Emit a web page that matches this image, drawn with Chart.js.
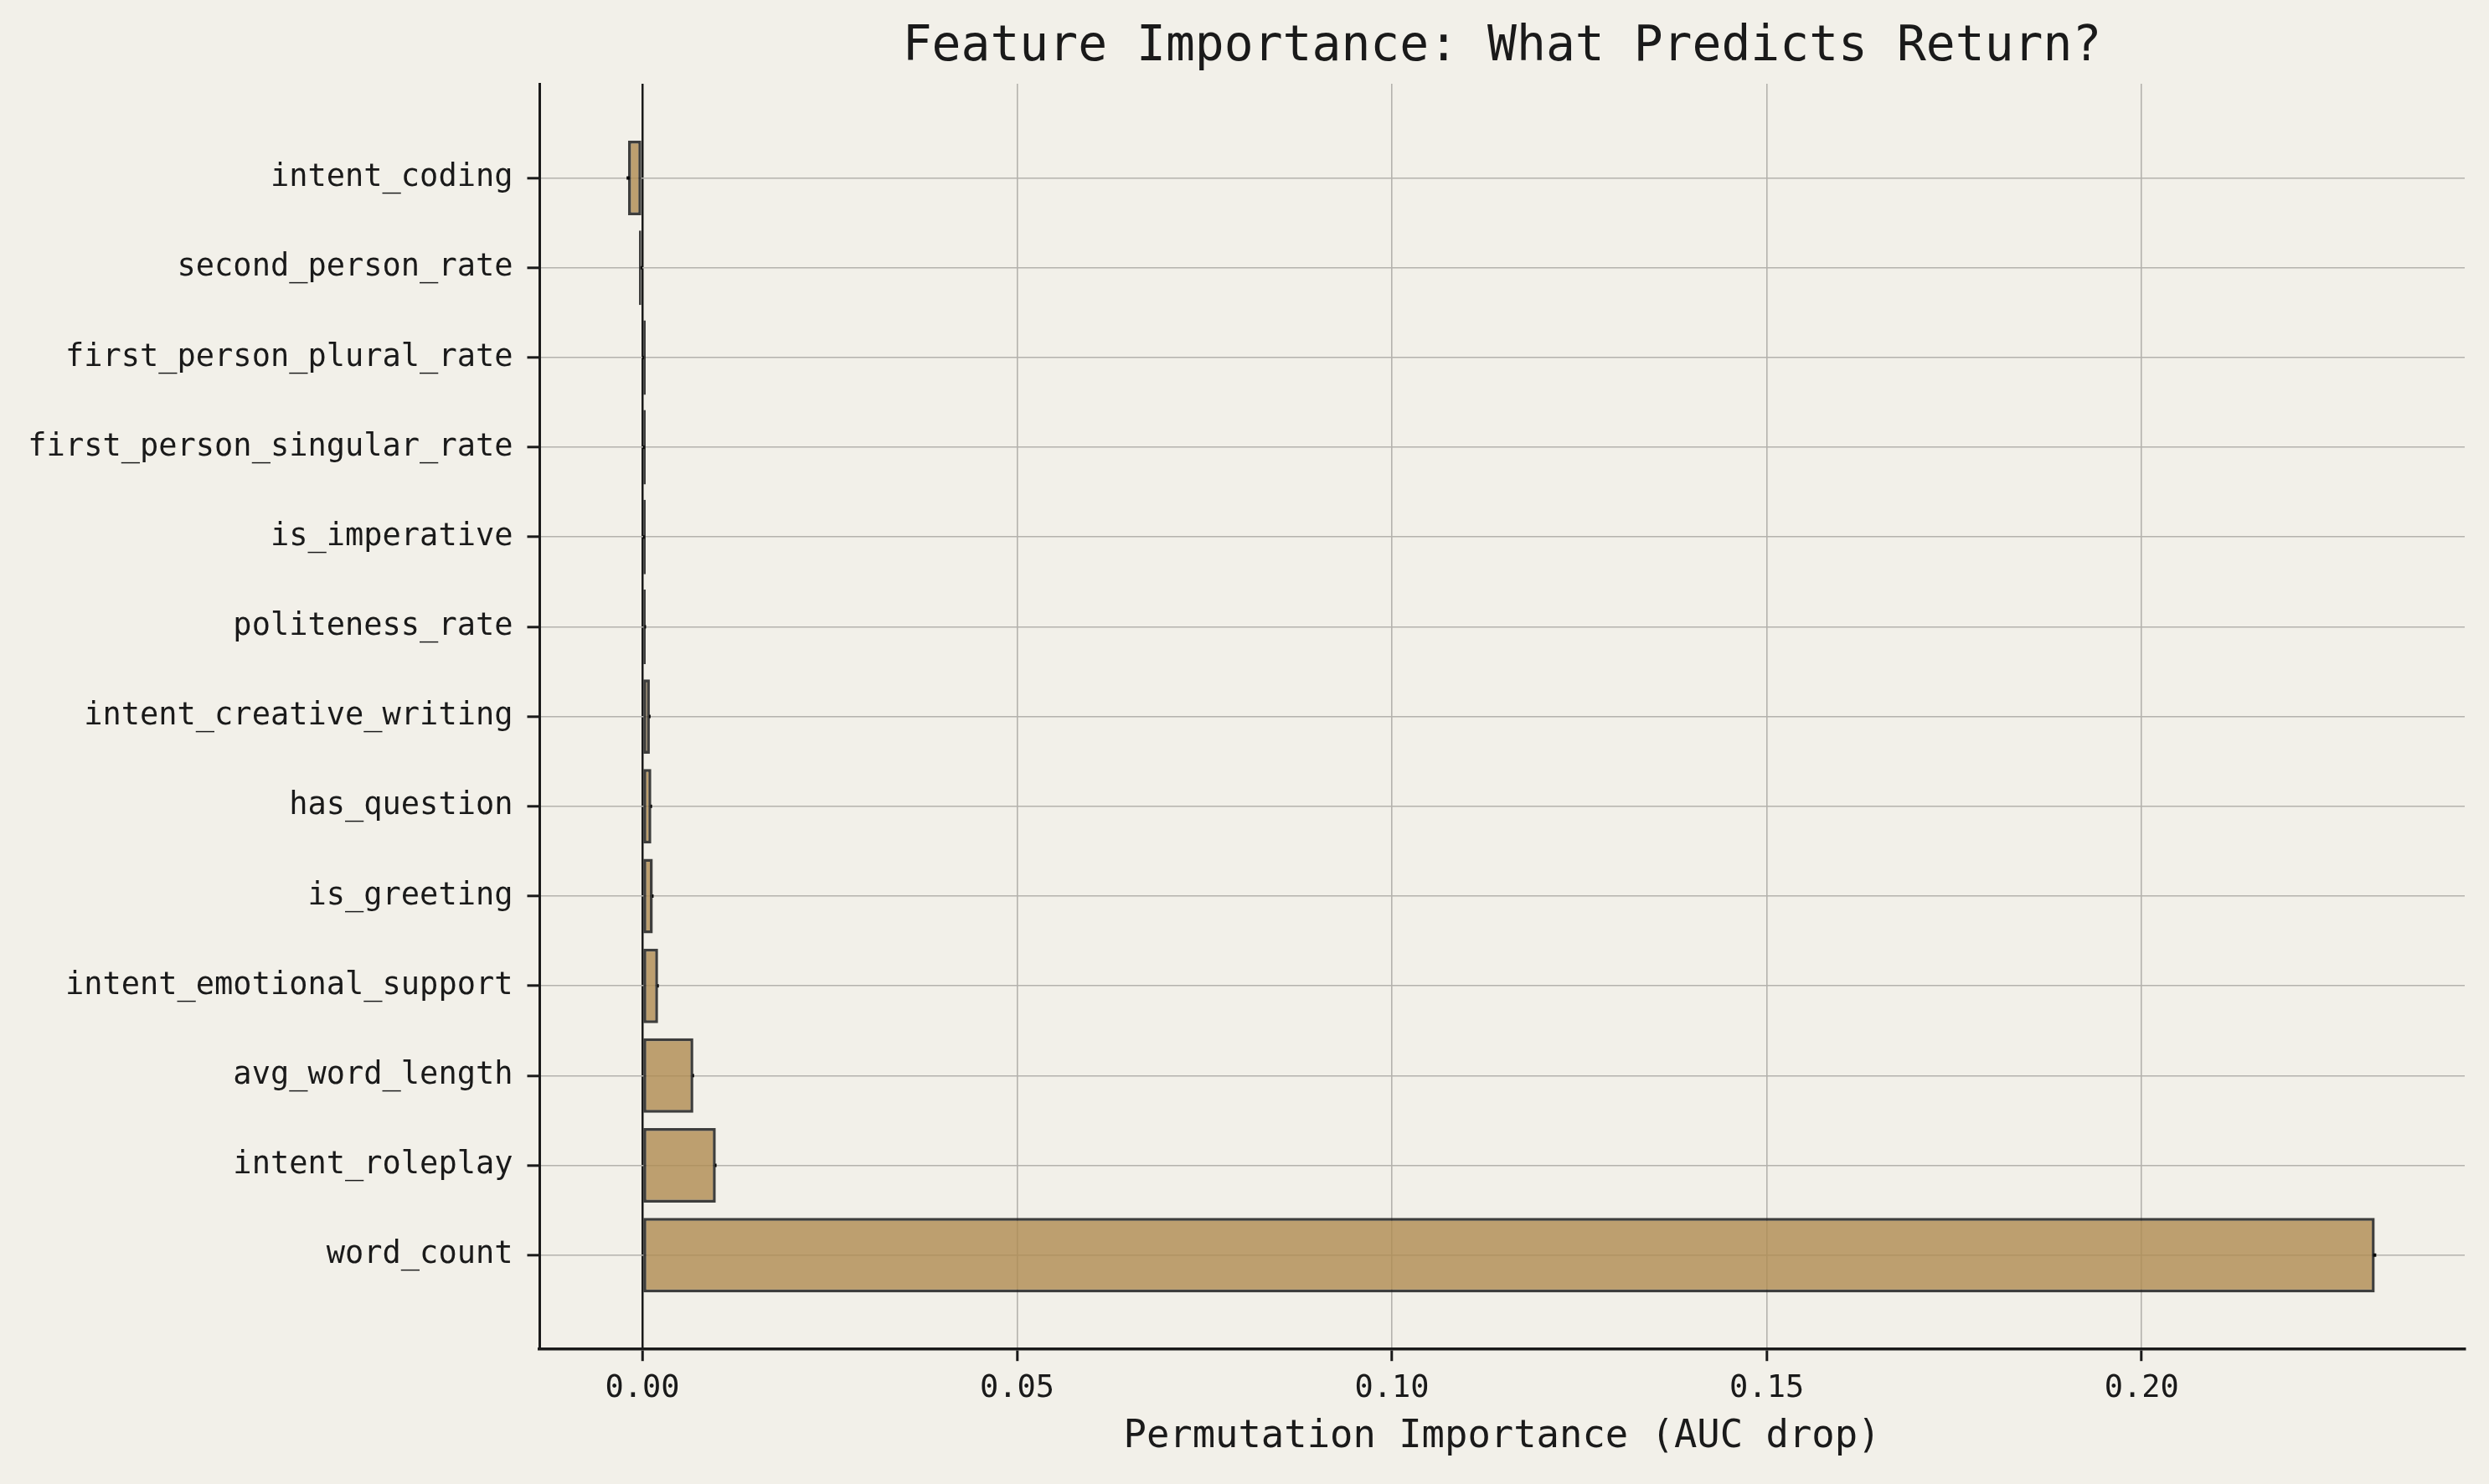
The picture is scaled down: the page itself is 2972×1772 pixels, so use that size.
<!DOCTYPE html>
<html>
<head>
<meta charset="utf-8">
<script src="https://cdn.jsdelivr.net/npm/chart.js@4.4.1/dist/chart.umd.min.js"></script>
<style>
  html, body { margin: 0; padding: 0; background: #F2F0E9; }
  #wrap { width: 2972px; height: 1772px; }
</style>
</head>
<body>
<div id="wrap"><canvas id="c" width="2972" height="1772"></canvas></div>
<script>
// ---- data (top to bottom as displayed) ----
const features = [
  "intent_coding",
  "second_person_rate",
  "first_person_plural_rate",
  "first_person_singular_rate",
  "is_imperative",
  "politeness_rate",
  "intent_creative_writing",
  "has_question",
  "is_greeting",
  "intent_emotional_support",
  "avg_word_length",
  "intent_roleplay",
  "word_count"
];
const importance = [
  -0.0019, -0.0001, 0.0001, 0.0002, 0.0002, 0.0004,
  0.0010, 0.0012, 0.0014, 0.0021, 0.0068, 0.0098, 0.2311
];
const importanceStd = [
  0.0002, 0.0001, 0.0001, 0.0001, 0.0001, 0.0001,
  0.0001, 0.0001, 0.0001, 0.0001, 0.0001, 0.0001, 0.0002
];
const xTicks = [0.00, 0.05, 0.10, 0.15, 0.20];
const xMin = -0.01374, xMax = 0.2431;
const yMin = -1.05, yMax = 13.045;

const FONT = "'DejaVu Sans Mono', 'Liberation Mono', monospace";
const INK = '#1a1a1a';
const GRID = '#b4b2ad';

const bgPlugin = {
  id: 'bg',
  beforeDraw(chart) {
    const ctx = chart.ctx;
    ctx.save();
    ctx.fillStyle = '#F2F0E9';
    ctx.fillRect(0, 0, chart.width, chart.height);
    ctx.restore();
  }
};

const errPlugin = {
  id: 'errbars',
  afterDatasetsDraw(chart) {
    const xs = chart.scales.x, ys = chart.scales.y, ctx = chart.ctx;
    ctx.save();
    ctx.strokeStyle = '#000';
    ctx.lineWidth = 4;
    importance.forEach((v, i) => {
      const y = ys.getPixelForValue(i);
      const e = importanceStd[i];
      ctx.beginPath();
      ctx.moveTo(xs.getPixelForValue(v - e), y);
      ctx.lineTo(xs.getPixelForValue(v + e), y);
      ctx.stroke();
    });
    ctx.restore();
  }
};

new Chart(document.getElementById('c'), {
  type: 'bar',
  data: {
    datasets: [{
      data: importance.map((v, i) => ({ x: v, y: i })),
      backgroundColor: 'rgba(175,139,80,0.8)',
      borderColor: 'rgba(30,30,30,0.85)',
      borderWidth: 3.5,
      borderSkipped: false,
      minBarLength: 4,
      categoryPercentage: 1.0,
      barPercentage: 0.83
    }]
  },
  plugins: [bgPlugin, errPlugin],
  options: {
    indexAxis: 'y',
    responsive: false,
    devicePixelRatio: 1,
    animation: false,
    layout: { padding: { left: 0, right: 29, top: 0, bottom: 0 } },
    plugins: {
      legend: { display: false },
      tooltip: { enabled: false },
      title: {
        display: true,
        fullSize: false,
        text: 'Feature Importance: What Predicts Return?',
        color: INK,
        font: { family: FONT, size: 58, weight: 'normal', lineHeight: 1.2 },
        padding: { top: 21.8, bottom: 8.6 }
      }
    },
    scales: {
      x: {
        type: 'linear',
        min: xMin,
        max: xMax,
        offset: false,
        afterBuildTicks(scale) { scale.ticks = xTicks.map(v => ({ value: v })); },
        afterFit(scale) { scale.height = 161.3; },
        ticks: {
          color: INK,
          font: { family: FONT, size: 37 },
          padding: 10.8,
          maxRotation: 0,
          callback: v => Number(v).toFixed(2)
        },
        grid: {
          offset: false,
          color: ctx => (ctx.tick && ctx.tick.value === 0) ? INK : GRID,
          lineWidth: ctx => (ctx.tick && ctx.tick.value === 0) ? 2.5 : 1.6,
          tickColor: INK,
          tickWidth: 3,
          tickLength: 14.5
        },
        border: { display: true, color: INK, width: 3.5 },
        title: {
          display: true,
          text: 'Permutation Importance (AUC drop)',
          color: INK,
          font: { family: FONT, size: 45.5 },
          padding: { top: 0, bottom: 28.7 }
        }
      },
      y: {
        type: 'linear',
        reverse: true,
        min: yMin,
        max: yMax,
        offset: false,
        afterBuildTicks(scale) { scale.ticks = features.map((_, i) => ({ value: i })); },
        afterFit(scale) { scale.width = 644; },
        ticks: {
          color: INK,
          font: { family: FONT, size: 37 },
          padding: 17,
          autoSkip: false,
          callback: v => features[v]
        },
        grid: {
          offset: false,
          color: GRID,
          lineWidth: 1.6,
          tickColor: INK,
          tickWidth: 3,
          tickLength: 14.5
        },
        border: { display: true, color: INK, width: 3 }
      }
    }
  }
});
</script>
</body>
</html>
